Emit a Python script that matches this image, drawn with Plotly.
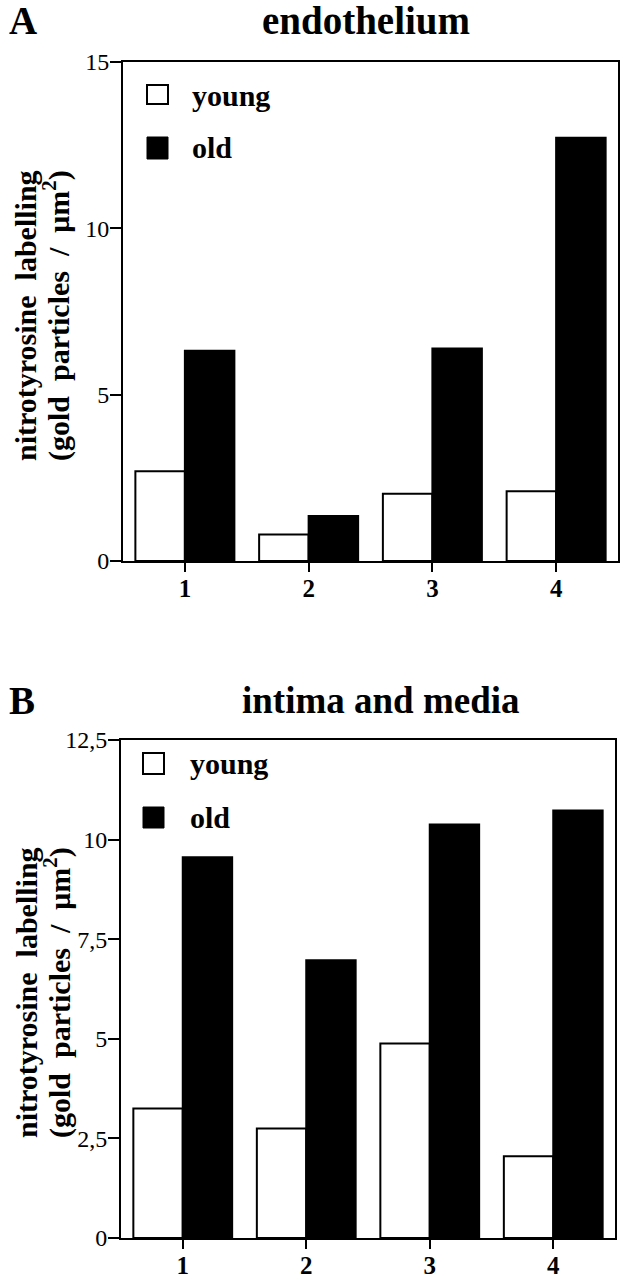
import plotly.graph_objects as go

# ---- data ----
groups = ["1", "2", "3", "4"]
endo_young = [2.70, 0.80, 2.02, 2.10]
endo_old = [6.32, 1.35, 6.39, 12.72]
im_young = [3.25, 2.75, 4.88, 2.05]
im_old = [9.56, 6.97, 10.38, 10.73]
endo_tickvals = [0, 5, 10, 15]
endo_ticktext = ["0", "5", "10", "15"]
im_tickvals = [0, 2.5, 5, 7.5, 10, 12.5]
im_ticktext = ["0", "2,5", "5", "7,5", "10", "12,5"]
series_names = ["young", "old"]
ylab_lines = ["nitrotyrosine  labelling", "(gold  particles  /  μm<sup>2</sup>)"]

W, H = 628, 1280
FONT = "Liberation Serif"

def px(x):
    return x / W

def py(y):
    return (H - y) / H

fig = go.Figure()

bar_line = dict(color="black", width=2)
fig.add_trace(go.Bar(x=groups, y=endo_young, name=series_names[0], marker=dict(color="white", line=bar_line),
                     xaxis="x", yaxis="y", showlegend=False))
fig.add_trace(go.Bar(x=groups, y=endo_old, name=series_names[1], marker=dict(color="black", line=bar_line),
                     xaxis="x", yaxis="y", showlegend=False))
fig.add_trace(go.Bar(x=groups, y=im_young, name=series_names[0], marker=dict(color="white", line=bar_line),
                     xaxis="x2", yaxis="y2", showlegend=False))
fig.add_trace(go.Bar(x=groups, y=im_old, name=series_names[1], marker=dict(color="black", line=bar_line),
                     xaxis="x2", yaxis="y2", showlegend=False))

axis_common = dict(showline=True, linecolor="black", linewidth=2, mirror=True,
                   ticks="outside", tickwidth=2, tickcolor="black",
                   showgrid=False, zeroline=False, automargin=False)

xfont = dict(family=FONT, size=25, color="black", weight="bold")
yfont = dict(family=FONT, size=24, color="black")

fig.update_layout(
    width=W, height=H,
    margin=dict(l=0, r=0, t=0, b=0),
    paper_bgcolor="white", plot_bgcolor="white",
    barmode="group", bargap=0.2, bargroupgap=0,
    xaxis=dict(domain=[px(123), px(618)], anchor="y", tickfont=xfont, ticklen=9,
               ticklabelstandoff=-5, **axis_common),
    yaxis=dict(domain=[py(561), py(62)], anchor="x", range=[0, 15], ticklen=11,
               ticklabelstandoff=-4,
               tickvals=endo_tickvals, ticktext=endo_ticktext, tickfont=yfont, **axis_common),
    xaxis2=dict(domain=[px(121), px(615)], anchor="y2", tickfont=xfont, ticklen=9,
                ticklabelstandoff=-5, **axis_common),
    yaxis2=dict(domain=[py(1238), py(740)], anchor="x2", range=[0, 12.5], ticklen=11,
                ticklabelstandoff=-4,
                tickvals=im_tickvals, ticktext=im_ticktext, tickfont=yfont, **axis_common),
)

title_font = dict(family=FONT, size=39, color="black", weight="bold")
title_font2 = dict(family=FONT, size=37, color="black", weight="bold")
leg_font = dict(family=FONT, size=30, color="black", weight="bold")
ylab_font = dict(family=FONT, size=30, color="black", weight="bold")

ann = []
ann.append(dict(text="A", x=px(7), y=py(20), xref="paper", yref="paper", xanchor="left", yanchor="middle",
                showarrow=False, font=title_font))
ann.append(dict(text="endothelium", x=px(366), y=py(20), xref="paper", yref="paper", xanchor="center",
                yanchor="middle", showarrow=False, font=title_font))
ann.append(dict(text="B", x=px(7), y=py(700), xref="paper", yref="paper", xanchor="left", yanchor="middle",
                showarrow=False, font=title_font))
ann.append(dict(text="intima and media", x=px(381), y=py(700), xref="paper", yref="paper", xanchor="center",
                yanchor="middle", showarrow=False, font=title_font2))

for yc in (316, 993):
    for line, xc in zip(ylab_lines, (26, 57)):
        ann.append(dict(text=line, x=px(xc), y=py(yc), xref="paper", yref="paper", xanchor="center",
                        yanchor="middle", textangle=-90, showarrow=False, font=ylab_font))

shapes = []
legend_specs = [
    # (square x0, x1, young y0, y1, old y0, y1, text x, young text y, old text y)
    (147, 168, 85, 104, 137, 159, 190, 96, 148),
    (143, 164, 753, 774, 807, 828, 188, 763, 817),
]
for (sx0, sx1, yy0, yy1, oy0, oy1, tx, ty_y, ty_o) in legend_specs:
    shapes.append(dict(type="rect", xref="paper", yref="paper", x0=px(sx0), x1=px(sx1), y0=py(yy1), y1=py(yy0),
                       line=dict(color="black", width=2), fillcolor="white"))
    shapes.append(dict(type="rect", xref="paper", yref="paper", x0=px(sx0), x1=px(sx1), y0=py(oy1), y1=py(oy0),
                       line=dict(color="black", width=1), fillcolor="black"))
    ann.append(dict(text=series_names[0], x=px(tx), y=py(ty_y), xref="paper", yref="paper", xanchor="left",
                    yanchor="middle", showarrow=False, font=leg_font))
    ann.append(dict(text=series_names[1], x=px(tx), y=py(ty_o), xref="paper", yref="paper", xanchor="left",
                    yanchor="middle", showarrow=False, font=leg_font))

fig.update_layout(annotations=ann, shapes=shapes)

fig.write_html("out.html", config={"displayModeBar": False},
               post_script="document.body.style.margin='0';document.body.style.padding='0';")
